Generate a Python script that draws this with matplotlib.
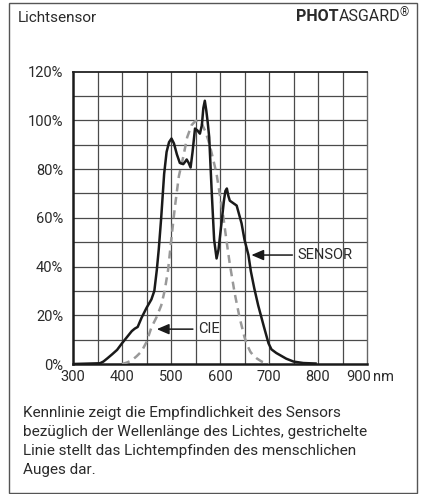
import matplotlib.pyplot as plt
import matplotlib.transforms as mtransforms
from matplotlib.patches import Rectangle

plt.rcParams['font.family'] = ['Roboto', 'DejaVu Sans']

# Sensor-Kennlinie (schwarz) in nm / %
sensor_nm = [300, 355, 362, 370, 380, 390, 400, 410, 420, 426, 432, 440, 450, 460, 466,
             471, 475, 480, 486, 491, 496, 501, 506, 512, 518, 525, 529, 532, 536, 540,
             544, 549, 554, 559, 563, 566, 569, 572, 575, 578, 583, 588, 593, 597, 603,
             608, 611, 614, 617, 620, 627, 634, 644, 650, 658, 663, 670, 678, 690, 699,
             705, 715, 722, 735, 750, 770, 795]
sensor_pct = [0, 0.3, 1, 2.3, 4, 5.8, 8.5, 11, 13.5, 14.5, 15.2, 19, 23, 26.5, 30,
              38.5, 47, 60, 78, 87, 91, 92.5, 90.5, 86, 82.5, 82, 83, 83.9, 82.5, 80.6,
              87, 96.6, 95.8, 94.5, 98, 105, 108, 104, 99, 93, 71, 51, 43.3, 47, 57.7,
              67, 71, 72, 69, 67, 66, 65, 57.7, 51, 44.7, 38, 31, 24, 15, 8.5,
              6, 4.5, 3.7, 2.2, 1, 0.4, 0.2]

# CIE-Hellempfindlichkeit (grau gestrichelt)
cie_nm = [400, 410, 420, 430, 440, 450, 460, 470, 480, 487, 494, 500, 508, 516,
          525, 533, 542, 549, 556, 563, 570, 575, 580, 586, 593, 600, 607,
          613, 620, 625, 630, 635, 640, 645, 650, 655, 662, 668, 675, 685, 695, 700]
cie_pct = [0, 0.6, 1.5, 3.2, 5.2, 9, 15, 19, 24, 30, 38.5, 50, 64.5, 77,
           85, 93, 98, 99.5, 100, 98.5, 95.5, 92.5, 89, 84, 78, 69, 60,
           51, 41, 35, 29, 24, 19, 15, 11, 8, 5, 3.5, 2.3, 1, 0.3, 0]

x_ticks = [300, 400, 500, 600, 700, 800, 900]
y_ticks = [0, 20, 40, 60, 80, 100, 120]
y_labels = ['0%', '20%', '40%', '60%', '80%', '100%', '120%']

text_col = '#2a2a2a'

fig = plt.figure(figsize=(4.22, 4.94), dpi=100)
ax = fig.add_axes([73 / 422, 130 / 494, 294 / 422, 292.5 / 494])

# Rahmen
fig.patches.append(Rectangle((9 / 422, 1.5 / 494), 408 / 422, 489.5 / 494,
                             transform=fig.transFigure, fill=False,
                             edgecolor='#555555', linewidth=1.0))

ax.set_xlim(300, 900)
ax.set_ylim(0, 120)

# Gitter alle 50 nm / 10 %
for gx in range(350, 900, 50):
    ax.axvline(gx, color='#4a4a4a', linewidth=0.9, zorder=1)
for gy in range(10, 120, 10):
    ax.axhline(gy, color='#4a4a4a', linewidth=0.9, zorder=1)

ax.plot(cie_nm, cie_pct, color='#999999', linewidth=1.8, dashes=(3.2, 2.2), zorder=3)
ax.plot(sensor_nm, sensor_pct, color='#1a1a1a', linewidth=1.8, zorder=4)

for side in ['left', 'bottom']:
    ax.spines[side].set_linewidth(1.8)
    ax.spines[side].set_color('#1a1a1a')
ax.spines['top'].set_linewidth(1.3)
ax.spines['top'].set_color('#222222')
ax.spines['right'].set_linewidth(1.0)
ax.spines['right'].set_color('#666666')

ax.set_xticks(x_ticks)
ax.set_xticklabels([str(v) for v in x_ticks])
ax.set_yticks(y_ticks)
ax.set_yticklabels(y_labels)
ax.tick_params(length=0, labelsize=10.5, labelcolor=text_col)
ax.tick_params(axis='x', pad=4)
ax.tick_params(axis='y', pad=7)

# "900" etwas nach links, dahinter "nm"
last = ax.get_xticklabels()[-1]
last.set_transform(last.get_transform() +
                   mtransforms.ScaledTranslation(-8 / 100, 0, fig.dpi_scale_trans))
ax.annotate('nm', xy=(1, 0), xycoords='axes fraction', xytext=(4, -4),
            textcoords='offset points', ha='left', va='top', fontsize=10.5,
            color=text_col, annotation_clip=False)

arrow = dict(arrowstyle='-|>,head_length=0.7,head_width=0.3', color='#1a1a1a',
             linewidth=1.1, shrinkA=2, shrinkB=0, relpos=(0, 0.5))
ax.annotate('SENSOR', xy=(664, 44.7), xytext=(759, 44.7), ha='left', va='center',
            fontsize=10.5, color=text_col, arrowprops=arrow, zorder=5)
ax.annotate('CIE', xy=(471, 14.3), xytext=(556, 14.3), ha='left', va='center',
            fontsize=10.5, color=text_col, arrowprops=arrow, zorder=5)

# Kopfzeile
fig.text(18 / 422, 1 - 18 / 494, 'Lichtsensor', fontsize=11, color=text_col,
         ha='left', va='center')
reg = fig.text(409 / 422, 1 - 13 / 494, '®', fontsize=8.5, color=text_col,
               ha='right', va='center')
asg = ax.annotate('ASGARD', xy=(0, 0), xycoords=reg, xytext=(0.5, -3),
                  textcoords='offset points', ha='right', va='bottom',
                  fontsize=11.5, color=text_col, annotation_clip=False)
ax.annotate('PHOT', xy=(0, 0), xycoords=asg, ha='right', va='bottom',
            fontsize=11.5, fontweight='bold', color=text_col, annotation_clip=False)

# Beschreibung
desc = ('Kennlinie zeigt die Empfindlichkeit des Sensors\n'
        'bezüglich der Wellenlänge des Lichtes, gestrichelte\n'
        'Linie stellt das Lichtempfinden des menschlichen\n'
        'Auges dar.')
fig.text(23 / 422, 1 - 406 / 494, desc, fontsize=11, color=text_col, ha='left',
         va='top', linespacing=1.45)

fig.savefig('out.png', dpi=100)
